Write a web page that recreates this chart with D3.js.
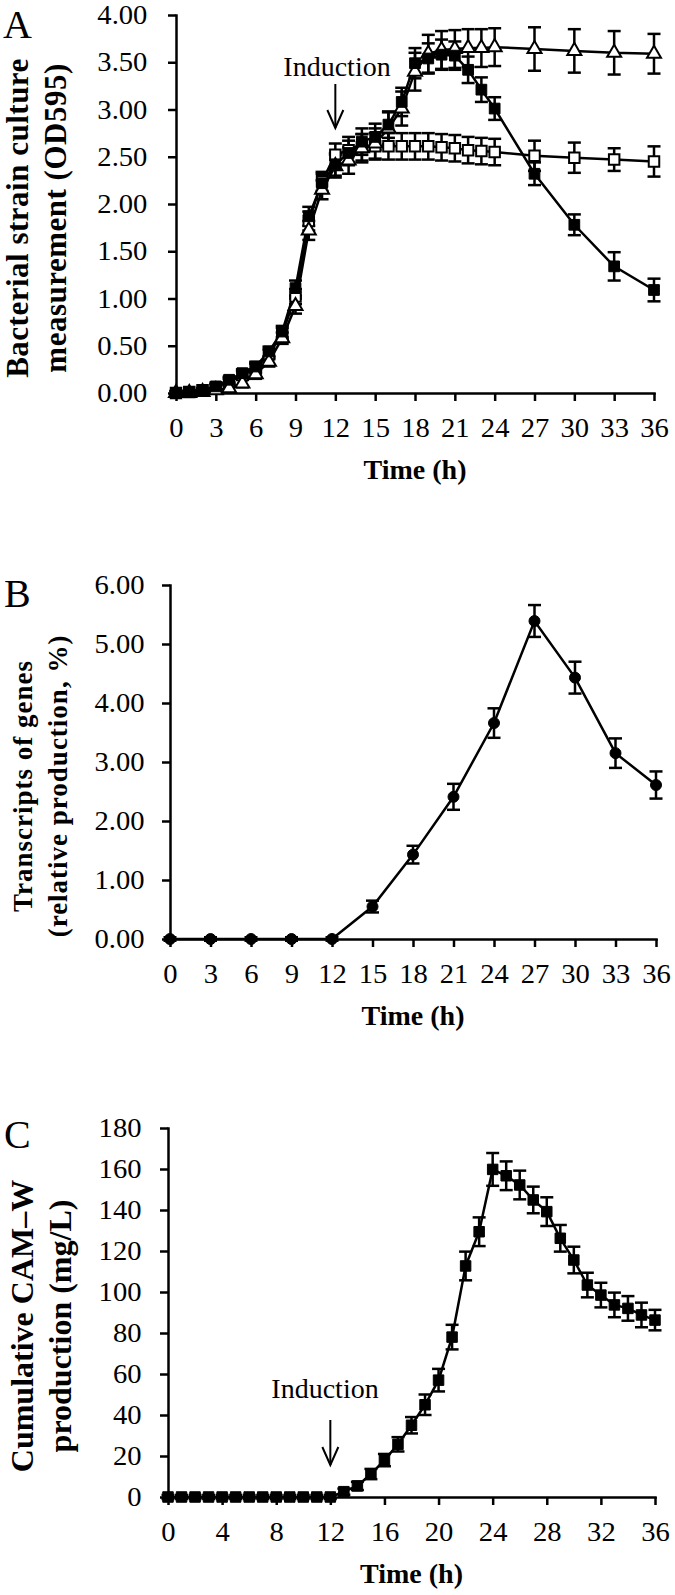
<!DOCTYPE html>
<html><head><meta charset="utf-8">
<script src="https://cdn.jsdelivr.net/npm/d3@7"></script>
<style>
body{margin:0;background:#fff;}
svg{display:block;}
text{font-family:"Liberation Serif","Times New Roman",serif;fill:#000;}
</style>
</head><body>
<svg id="chart" width="675" height="1595"></svg>
<script>
// ---------- Panel A data ----------
const timeA = [0,1,2,3,4,5,6,7,8,9,10,11,12,13,14,15,16,17,18,19,20,21,22,23,24,27,30,33,36];
const odFilled    = [0.00,0.01,0.03,0.07,0.14,0.21,0.28,0.44,0.65,1.11,1.87,2.22,2.42,2.54,2.66,2.71,2.84,3.08,3.49,3.54,3.58,3.57,3.42,3.21,3.01,2.32,1.78,1.34,1.09];
const odFilledErr = [0.02,0.02,0.02,0.03,0.03,0.04,0.05,0.05,0.06,0.08,0.10,0.10,0.12,0.13,0.14,0.14,0.14,0.15,0.16,0.16,0.16,0.15,0.14,0.13,0.12,0.12,0.11,0.15,0.12];
const odOpenSq    = [0.00,0.01,0.03,0.06,0.12,0.19,0.26,0.41,0.63,1.02,1.82,2.24,2.52,2.57,2.60,2.61,2.61,2.61,2.61,2.61,2.60,2.59,2.57,2.56,2.55,2.51,2.49,2.47,2.45];
const odOpenSqErr = [0.02,0.02,0.02,0.03,0.03,0.04,0.05,0.05,0.06,0.08,0.10,0.10,0.12,0.14,0.14,0.14,0.14,0.14,0.14,0.14,0.14,0.14,0.14,0.14,0.14,0.16,0.16,0.12,0.16];
const odTriangle    = [0.00,0.00,0.01,0.03,0.05,0.10,0.20,0.33,0.58,0.92,1.72,2.15,2.40,2.46,2.59,2.64,2.80,3.01,3.40,3.59,3.63,3.64,3.65,3.65,3.66,3.64,3.62,3.60,3.59];
const odTriangleErr = [0.02,0.02,0.02,0.03,0.03,0.04,0.05,0.05,0.06,0.08,0.10,0.10,0.12,0.14,0.15,0.16,0.17,0.18,0.20,0.20,0.20,0.20,0.20,0.20,0.20,0.23,0.23,0.23,0.21];
const xTicksA = [0,3,6,9,12,15,18,21,24,27,30,33,36];
const yTicksA = [0,0.5,1,1.5,2,2.5,3,3.5,4];

// ---------- Panel B data ----------
const timeB = [0,3,6,9,12,15,18,21,24,27,30,33,36];
const transcripts    = [0,0,0,0,0,0.55,1.43,2.41,3.66,5.39,4.43,3.15,2.61];
const transcriptsErr = [0.03,0.03,0.03,0.03,0.03,0.10,0.15,0.22,0.25,0.27,0.27,0.25,0.23];
const xTicksB = [0,3,6,9,12,15,18,21,24,27,30,33,36];
const yTicksB = [0,1,2,3,4,5,6];

// ---------- Panel C data ----------
const timeC = [0,1,2,3,4,5,6,7,8,9,10,11,12,13,14,15,16,17,18,19,20,21,22,23,24,25,26,27,28,29,30,31,32,33,34,35,36];
const camw    = [0,0,0,0,0,0,0,0,0,0,0,0,0,2.6,5.4,11.2,18,25.7,35,45,57,78,112.7,129.4,159.8,156.7,152.2,144.9,139.2,126.2,115.6,103.4,98.5,93.7,92,88.8,86.3];
const camwErr = [1,1,1,1,1,1,1,1,1,1,1,1,1,1.5,2,2.5,3,3.5,4,5,5.5,6,7,7,8,7,7,6.5,7,6.5,6.5,6,6,6,6,6,5];
const xTicksC = [0,4,8,12,16,20,24,28,32,36];
const yTicksC = [0,20,40,60,80,100,120,140,160,180];

const svg = d3.select("#chart");
const FONT = '"Liberation Serif","Times New Roman",serif';

function panel(o) {
  const x = d3.scaleLinear().domain([0, 36]).range([o.x0, o.x1]);
  const y = d3.scaleLinear().domain([0, o.yMax]).range([o.yBottom, o.yTop]);
  const g = svg.append("g");

  const gx = g.append("g").attr("transform", `translate(0,${o.yBottom})`)
    .call(d3.axisBottom(x).tickValues(o.xTicks).tickSize(8).tickSizeOuter(0).tickPadding(17).tickFormat(d3.format("d")));
  const gy = g.append("g").attr("transform", `translate(${o.x0},0)`)
    .call(d3.axisLeft(y).tickValues(o.yTicks).tickSize(8).tickSizeOuter(0).tickPadding(o.yPad).tickFormat(o.yFmt));
  [gx, gy].forEach(a => {
    a.select(".domain").attr("stroke", "#000").attr("stroke-width", 2.5).attr("stroke-linecap", "square");
    a.selectAll(".tick line").attr("stroke", "#000").attr("stroke-width", 2.5);
    a.selectAll("text").attr("font-size", 27).attr("font-family", FONT).attr("fill", "#000")
      .attr("transform", "scale(1.06,1)");
  });

  // panel letter
  g.append("text").attr("x", o.letterX).attr("y", o.letterY).attr("font-size", 40).text(o.letter);

  // y title (two lines, rotated)
  o.yTitle.forEach((t, i) => {
    g.append("text")
      .attr("transform", `translate(${o.yTitleX[i]},${o.yTitleCY}) rotate(-90)`)
      .attr("text-anchor", "middle").attr("font-weight", "bold")
      .attr("font-size", o.yTitleSize).attr("letter-spacing", o.yTitleLS)
      .text(t);
  });

  // x title
  g.append("text").attr("x", (o.x0 + o.x1) / 2).attr("y", o.yBottom + 86)
    .attr("text-anchor", "middle").attr("font-weight", "bold").attr("font-size", 28)
    .text("Time (h)");

  // induction annotation
  if (o.induction) {
    const ax = x(12);
    g.append("text").attr("x", o.induction.tx).attr("y", o.induction.ty)
      .attr("text-anchor", "middle").attr("font-size", 28).text("Induction");
    const a = g.append("g").attr("stroke", "#000").attr("stroke-width", 2).attr("fill", "none");
    a.append("line").attr("x1", ax).attr("x2", ax).attr("y1", o.induction.y1).attr("y2", o.induction.y2);
    a.append("path").attr("d", `M${ax - 8},${o.induction.y2 - 18}L${ax},${o.induction.y2}L${ax + 8},${o.induction.y2 - 18}`);
  }

  // series
  const line = d3.line().x(d => x(d.t)).y(d => y(d.v));
  o.series.forEach(s => {
    const data = s.t.map((t, i) => ({ t, v: s.v[i], e: s.e[i] }));
    g.append("path").datum(data).attr("d", line)
      .attr("fill", "none").attr("stroke", "#000").attr("stroke-width", 2.5);
    const eb = g.append("g").attr("stroke", "#000").attr("stroke-width", 2.5);
    data.forEach(d => {
      const cx = x(d.t), yt = y(d.v + d.e), yb = y(d.v - d.e);
      eb.append("line").attr("x1", cx).attr("x2", cx).attr("y1", yt).attr("y2", yb);
      eb.append("line").attr("x1", cx - 6.5).attr("x2", cx + 6.5).attr("y1", yt).attr("y2", yt);
      eb.append("line").attr("x1", cx - 6.5).attr("x2", cx + 6.5).attr("y1", yb).attr("y2", yb);
    });
  });
  o.series.forEach(s => {
    const data = s.t.map((t, i) => ({ t, v: s.v[i] }));
    g.append("g").selectAll("path").data(data).join("path")
      .attr("transform", d => `translate(${x(d.t)},${y(d.v)})`)
      .attr("d", d3.symbol().type(s.symbol).size(s.size))
      .attr("fill", s.fill).attr("stroke", "#000").attr("stroke-width", s.fill === "#000" ? 1 : 2);
  });
}

// Panel A
panel({
  x0: 176, x1: 654, yTop: 15, yBottom: 393, yMax: 4,
  xTicks: xTicksA, yTicks: yTicksA, yPad: 19, yFmt: d3.format(".2f"),
  letter: "A", letterX: 3, letterY: 38,
  yTitle: ["Bacterial strain culture", "measurement (OD595)"], yTitleX: [28, 66], yTitleCY: 218,
  yTitleSize: 31, yTitleLS: 0.5,
  induction: { tx: 337, ty: 76, y1: 84, y2: 128 },
  series: [
    { t: timeA, v: odOpenSq, e: odOpenSqErr, symbol: d3.symbolSquare, size: 110, fill: "#fff" },
    { t: timeA, v: odTriangle, e: odTriangleErr, symbol: d3.symbolTriangle, size: 85, fill: "#fff" },
    { t: timeA, v: odFilled, e: odFilledErr, symbol: d3.symbolSquare, size: 115, fill: "#000" }
  ]
});

// Panel B
panel({
  x0: 170, x1: 656, yTop: 585, yBottom: 939, yMax: 6,
  xTicks: xTicksB, yTicks: yTicksB, yPad: 16, yFmt: d3.format(".2f"),
  letter: "B", letterX: 4, letterY: 607,
  yTitle: ["Transcripts of genes", "(relative production, %)"], yTitleX: [32, 67], yTitleCY: 786,
  yTitleSize: 27, yTitleLS: 1,
  series: [
    { t: timeB, v: transcripts, e: transcriptsErr, symbol: d3.symbolCircle, size: 95, fill: "#000" }
  ]
});

// Panel C
panel({
  x0: 168, x1: 655, yTop: 1128, yBottom: 1497, yMax: 180,
  xTicks: xTicksC, yTicks: yTicksC, yPad: 17, yFmt: d3.format("d"),
  letter: "C", letterX: 4, letterY: 1148,
  yTitle: ["Cumulative CAM\u2013W", "production (mg/L)"], yTitleX: [33, 71], yTitleCY: 1326,
  yTitleSize: 32, yTitleLS: 0,
  induction: { tx: 325, ty: 1398, y1: 1420, y2: 1465 },
  series: [
    { t: timeC, v: camw, e: camwErr, symbol: d3.symbolSquare, size: 110, fill: "#000" }
  ]
});
</script>
</body></html>
